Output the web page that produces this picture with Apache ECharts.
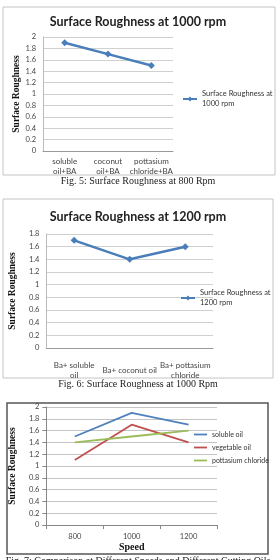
<!DOCTYPE html>
<html>
<head>
<meta charset="utf-8">
<script src="https://cdn.jsdelivr.net/npm/echarts@6/dist/echarts.min.js"></script>
<style>
  html, body { margin: 0; padding: 0; background: #fff; }
  #chart { width: 276px; height: 560px; }
</style>
</head>
<body>
<div id="chart"></div>
<script>
// fig 5
const cats1 = ["soluble\noil+BA", "coconut\noil+BA", "pottasium\nchloride+BA"];
const vals1 = [1.9, 1.7, 1.5];
// fig 6
const cats2 = ["Ba+ soluble\noil", "Ba+ coconut oil", "Ba+ pottasium\nchloride"];
const vals2 = [1.7, 1.4, 1.6];
// fig 7
const speeds = ["800", "1000", "1200"];
const solubleOil = [1.5, 1.9, 1.7];
const vegetableOil = [1.1, 1.7, 1.4];
const potChloride = [1.4, 1.5, 1.6];

const sans = "Lato";
const serif = "Liberation Serif";
const blue = "#4a7ebb";

const chart = echarts.init(document.getElementById("chart"));

function catAxis(idx, data, margin) {
  return {
    type: "category",
    gridIndex: idx,
    data: data,
    axisLine: { lineStyle: { color: "#999" } },
    axisTick: { show: false },
    axisLabel: {
      color: "#444", fontFamily: sans, fontSize: 8, lineHeight: 10,
      margin: margin, verticalAlign: "middle", interval: 0
    }
  };
}
function valAxis(idx, max, gap) {
  return {
    type: "value",
    gridIndex: idx,
    min: 0, max: max, interval: 0.2,
    name: "Surface Roughness",
    nameLocation: "middle",
    nameGap: gap,
    nameTextStyle: { fontFamily: serif, fontWeight: "bold", fontSize: 9.5, color: "#111" },
    axisLine: { show: true, lineStyle: { color: "#bbb" } },
    axisTick: { show: false },
    axisLabel: { color: "#444", fontFamily: sans, fontSize: 7.5, margin: 7 },
    splitLine: { lineStyle: { color: "#d0d0d0" } }
  };
}

const caption = (text, y) => ({
  type: "text", left: "center", top: y,
  style: { text: text, font: "10px 'Liberation Serif'", fill: "#222" }
});

chart.setOption({
  animation: false,
  title: [
    { text: "Surface Roughness at 1000 rpm", left: "center", top: 15, padding: 0,
      textStyle: { fontFamily: sans, fontWeight: "bold", fontSize: 12.5, color: "#222" } },
    { text: "Surface Roughness at 1200 rpm", left: "center", top: 210, padding: 0,
      textStyle: { fontFamily: sans, fontWeight: "bold", fontSize: 12.5, color: "#222" } }
  ],
  grid: [
    { left: 43, top: 37, width: 130, height: 114 },
    { left: 43, top: 234, width: 170, height: 114 },
    { left: 36, top: 407, width: 181, height: 118 }
  ],
  xAxis: [
    catAxis(0, cats1, 15),
    catAxis(1, cats2, 22),
    {
      type: "category", gridIndex: 2, data: speeds,
      name: "Speed", nameLocation: "middle", nameGap: 17,
      nameTextStyle: { fontFamily: serif, fontWeight: "bold", fontSize: 10, color: "#111" },
      axisLine: { lineStyle: { color: "#888" } },
      axisTick: { show: true, length: 4, lineStyle: { color: "#888" } },
      axisLabel: { color: "#444", fontFamily: sans, fontSize: 7.5, margin: 8 }
    }
  ],
  yAxis: [
    valAxis(0, 2, 21),
    valAxis(1, 1.8, 21),
    Object.assign(valAxis(2, 2, 17), {
      axisLine: { show: true, lineStyle: { color: "#888" } },
      axisTick: { show: true, length: 4, lineStyle: { color: "#888" } },
      splitLine: { lineStyle: { color: "#c4c4c4" } }
    })
  ],
  legend: [
    { data: ["Surface Roughness at\n1000 rpm"], left: 182, top: 84, padding: 0,
      itemWidth: 14, itemHeight: 6,
      textStyle: { fontFamily: sans, fontSize: 7.5, color: "#333", lineHeight: 10, padding: [10, 0, 0, 0] } },
    { data: ["Surface Roughness at\n1200 rpm"], left: 180, top: 283, padding: 0,
      itemWidth: 14, itemHeight: 6,
      textStyle: { fontFamily: sans, fontSize: 7.5, color: "#333", lineHeight: 10, padding: [10, 0, 0, 0] } },
    { data: ["soluble oil", "vegetable oil", "pottasium chloride"], orient: "vertical",
      left: 194, top: 430, padding: 0, icon: "rect", itemWidth: 13, itemHeight: 1.8, itemGap: 4,
      textStyle: { fontFamily: sans, fontSize: 7, color: "#333", lineHeight: 9 } }
  ],
  graphic: [
    { type: "rect", shape: { x: 3, y: 7, width: 272, height: 168 }, style: { fill: "none", stroke: "#c4c4c4", lineWidth: 1 } },
    { type: "rect", shape: { x: 3, y: 199, width: 270, height: 179 }, style: { fill: "none", stroke: "#c4c4c4", lineWidth: 1 } },
    { type: "rect", shape: { x: 7, y: 403, width: 261, height: 151 }, style: { fill: "none", stroke: "#555", lineWidth: 1.5 } },
    caption("Fig. 5: Surface Roughness at 800 Rpm", 176),
    caption("Fig. 6: Surface Roughness at 1000 Rpm", 379),
    caption("Fig. 7: Comparison at Different Speeds and Different Cutting Oils", 556)
  ],
  series: [
    { name: "Surface Roughness at\n1000 rpm", type: "line", xAxisIndex: 0, yAxisIndex: 0, data: vals1,
      symbol: "diamond", symbolSize: 7, color: blue, lineStyle: { width: 2.5 } },
    { name: "Surface Roughness at\n1200 rpm", type: "line", xAxisIndex: 1, yAxisIndex: 1, data: vals2,
      symbol: "diamond", symbolSize: 7, color: blue, lineStyle: { width: 2.5 } },
    { name: "soluble oil", type: "line", xAxisIndex: 2, yAxisIndex: 2, data: solubleOil,
      symbol: "none", color: "#4f81bd", lineStyle: { width: 1.8 } },
    { name: "vegetable oil", type: "line", xAxisIndex: 2, yAxisIndex: 2, data: vegetableOil,
      symbol: "none", color: "#c0504d", lineStyle: { width: 1.8 } },
    { name: "pottasium chloride", type: "line", xAxisIndex: 2, yAxisIndex: 2, data: potChloride,
      symbol: "none", color: "#9bbb59", lineStyle: { width: 1.8 } }
  ]
});

window.addEventListener("resize", () => chart.resize());
</script>
</body>
</html>
